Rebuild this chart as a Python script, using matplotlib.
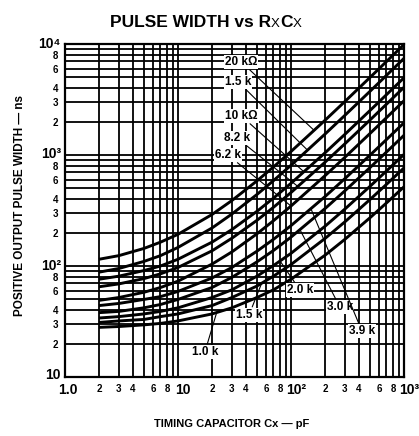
import numpy as np
import matplotlib.pyplot as plt
from matplotlib.ticker import FixedLocator, FixedFormatter
from matplotlib.transforms import ScaledTranslation

# timing capacitor Cx (pF) sample points
cx = [2, 3, 5, 7, 10, 20, 30, 50, 70, 100, 200, 300, 500, 700, 1000]

# positive output pulse width (ns) for each timing resistor Rx
tw_20k = [115, 124, 144, 164, 193, 291, 389, 585, 781, 1075, 2055, 3035, 4995, 6955, 9895]
tw_15k = [88, 95, 110, 124, 147, 220, 294, 441, 588, 808, 1543, 2278, 3748, 5218, 7423]
tw_10k = [76, 81, 91, 100, 115, 164, 213, 311, 409, 556, 1046, 1536, 2516, 3496, 4966]
tw_8k2 = [65, 69, 77, 85, 97, 137, 178, 258, 338, 459, 861, 1262, 2066, 2870, 4075]
tw_6k2 = [49, 52, 58, 64, 73, 104, 134, 195, 256, 347, 651, 954, 1562, 2170, 3081]
tw_3k9 = [44, 46, 50, 53, 59, 78, 97, 136, 174, 231, 422, 613, 996, 1378, 1951]
tw_3k0 = [38, 39, 42, 45, 50, 64, 79, 109, 138, 182, 329, 476, 770, 1064, 1505]
tw_2k0 = [34, 35, 37, 39, 42, 52, 61, 81, 101, 130, 228, 326, 522, 718, 1012]
tw_1k5 = [31, 32, 33, 35, 37, 44, 52, 66, 81, 103, 177, 250, 397, 544, 765]
tw_1k0 = [28, 28.5, 29.5, 30.4, 32, 37, 42, 52, 61, 76, 125, 174, 272, 370, 517]

curves = [tw_20k, tw_15k, tw_10k, tw_8k2, tw_6k2, tw_3k9, tw_3k0, tw_2k0, tw_1k5, tw_1k0]

# axis tick labels
x_major = [1, 10, 100, 1000]
x_major_lbl = ["1.0", "10", "10\u00b2", "10\u00b3"]
y_major = [10, 100, 1000, 10000]
y_major_lbl = ["10", "10\u00b2", "10\u00b3", "10\u2074"]
minor_digits = ["2", "3", "4", "", "6", "", "8", ""]

plt.rcParams.update({"font.family": ["Liberation Sans", "DejaVu Sans"],
                     "font.weight": "bold"})

fig = plt.figure(figsize=(4.19, 4.36), dpi=100)
ax = fig.add_axes([65 / 419, 1 - 377 / 436, 339 / 419, 333 / 436])
ax.set_xscale("log")
ax.set_yscale("log")
ax.set_xlim(1, 1000)
ax.set_ylim(10, 10000)

# grid lines at every 1..9 of each decade
minors_x = [d * m for d in (1, 10, 100) for m in range(2, 10)]
minors_y = [d * m for d in (10, 100, 1000) for m in range(2, 10)]
for v in minors_x + x_major:
    ax.axvline(v, color="black", lw=1.3, zorder=1)
for v in minors_y + y_major:
    ax.axhline(v, color="black", lw=1.3, zorder=1)

for tw in curves:
    ax.plot(cx, tw, color="black", lw=2.1, zorder=3, solid_capstyle="butt")

ax.xaxis.set_major_locator(FixedLocator(x_major))
ax.xaxis.set_major_formatter(FixedFormatter(x_major_lbl))
ax.xaxis.set_minor_locator(FixedLocator(minors_x))
ax.xaxis.set_minor_formatter(FixedFormatter(minor_digits * 3))
ax.yaxis.set_major_locator(FixedLocator(y_major))
ax.yaxis.set_major_formatter(FixedFormatter(y_major_lbl))
ax.yaxis.set_minor_locator(FixedLocator(minors_y))
ax.yaxis.set_minor_formatter(FixedFormatter(minor_digits * 3))
ax.tick_params(which="both", length=0)
ax.tick_params(axis="x", which="major", labelsize=10, pad=4)
ax.tick_params(axis="y", which="major", labelsize=10, pad=3)
ax.tick_params(which="minor", labelsize=7, pad=5)
for s in ax.spines.values():
    s.set_linewidth(1.6)

# nudge the power-of-ten labels so the "10" sits on its grid line
fig.canvas.draw()
for i, lab in enumerate(ax.xaxis.get_majorticklabels()):
    dx = 3 if i == 0 else 5
    lab.set_transform(lab.get_transform() + ScaledTranslation(dx / 100, 0, fig.dpi_scale_trans))
for i, lab in enumerate(ax.yaxis.get_majorticklabels()):
    dy = 4 if i == 0 else 2
    lab.set_transform(lab.get_transform() + ScaledTranslation(0, dy / 100, fig.dpi_scale_trans))


def on_curve(tw, c):
    return c, 10 ** np.interp(np.log10(c), np.log10(cx), np.log10(tw))


box = dict(facecolor="white", edgecolor="none", pad=0.6)
lead = dict(arrowstyle="-", color="black", lw=0.8, shrinkA=1, shrinkB=0)
top_labels = [("20 k\u03a9", tw_20k, 160, 26.1, 6890),
              ("1.5 k", tw_15k, 140, 26.1, 4550),
              ("10 k\u03a9", tw_10k, 130, 26.1, 2245),
              ("8.2 k", tw_8k2, 115, 25.5, 1420),
              ("6.2 k", tw_6k2, 100, 21.2, 1000)]
for txt, tw, c, lx, ly in top_labels:
    ax.annotate(txt, xy=on_curve(tw, c), xytext=(lx, ly), ha="left", va="center",
                fontsize=8.5, bbox=box, arrowprops=lead, zorder=5)

bottom_labels = [("1.0 k", tw_1k0, 22, 17.3, 16.8),
                 ("1.5 k", tw_1k5, 55, 42.5, 36.2),
                 ("2.0 k", tw_2k0, 80, 120, 60.6),
                 ("3.0 k", tw_3k0, 120, 271, 42.6),
                 ("3.9 k", tw_3k9, 150, 424, 26)]
for txt, tw, c, lx, ly in bottom_labels:
    ax.annotate(txt, xy=on_curve(tw, c), xytext=(lx, ly), ha="center", va="center",
                fontsize=8.5, bbox=box, arrowprops=lead, zorder=5)

# title with small-cap X
t1 = fig.text(110 / 419, 1 - 30 / 436, "PULSE WIDTH vs R", fontsize=12.5, va="bottom")
t2 = ax.annotate("X", xy=(1, 0), xycoords=t1, fontsize=9.5, fontweight="normal",
                 va="bottom", annotation_clip=False)
t3 = ax.annotate("C", xy=(1, 0), xycoords=t2, fontsize=12.5, va="bottom",
                 annotation_clip=False)
ax.annotate("X", xy=(1, 0), xycoords=t3, fontsize=9.5, fontweight="normal",
            va="bottom", annotation_clip=False)

fig.text(20 / 419, 1 - 206 / 436, "POSITIVE OUTPUT PULSE WIDTH \u2014 ns",
         rotation=90, ha="center", va="center", fontsize=8.5)
fig.text(232 / 419, 1 - 424 / 436, "TIMING CAPACITOR Cx \u2014 pF",
         ha="center", va="center", fontsize=8)

fig.savefig("out.png", dpi=100)
